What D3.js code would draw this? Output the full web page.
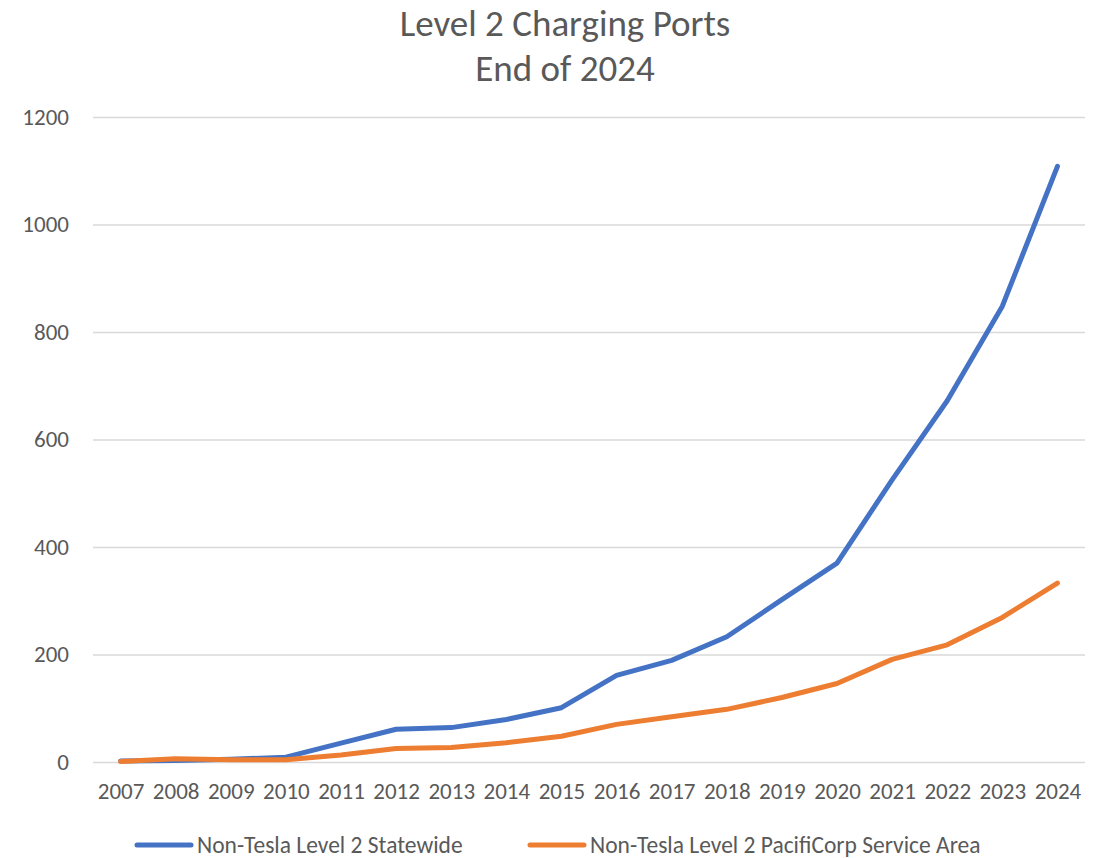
<!DOCTYPE html>
<html><head><meta charset="utf-8">
<script src="https://cdn.jsdelivr.net/npm/d3@7"></script>
<style>
body{margin:0;background:#fff;}
text{font-family:Carlito,'Liberation Sans Narrow','Open Sans',sans-serif;fill:#595959;}
</style></head>
<body><svg id="c" width="1106" height="858"></svg>
<script>
const years = ["2007","2008","2009","2010","2011","2012","2013","2014","2015","2016","2017","2018","2019","2020","2021","2022","2023","2024"];
const statewide = [2,3,5,9,35,61,64,79,101,161,189,233,302,370,525,672,848,1108];
const pacificorp = [1,6,4,4,13,25,27,36,48,70,84,98,120,146,191,218,269,333];
const yTicks = [0,200,400,600,800,1000,1200];
const seriesNames = ["Non-Tesla Level 2 Statewide","Non-Tesla Level 2 PacifiCorp Service Area"];
const colors = ["#4472C4","#ED7D31"];

const svg = d3.select("#c");
const L=93,R=1085,T=117,B=762;
const x = d3.scalePoint().domain(years).range([L,R]).padding(0.5);
const y = d3.scaleLinear().domain([0,1200]).range([B,T]);

svg.append("text").attr("x",565).attr("y",36).attr("text-anchor","middle").style("font-size","37px").text("Level 2 Charging Ports");
svg.append("text").attr("x",565).attr("y",81).attr("text-anchor","middle").style("font-size","37px").text("End of 2024");

const yAxis = d3.axisLeft(y).tickValues(yTicks).tickFormat(d3.format("d")).tickSize(-(R-L)).tickPadding(24);
const gy = svg.append("g").attr("transform",`translate(${L},0)`).call(yAxis);
gy.select(".domain").remove();
gy.selectAll("line").attr("stroke","#D9D9D9").attr("stroke-width",1.5);
gy.selectAll("text").style("font-size","23px").attr("fill","#595959");

const xAxis = d3.axisBottom(x).tickSize(0).tickPadding(21);
const gx = svg.append("g").attr("transform",`translate(0,${B})`).call(xAxis);
gx.select(".domain").remove();
gx.selectAll("text").style("font-size","23px").attr("fill","#595959");

const line = d3.line().x((d,i)=>x(years[i])).y(d=>y(d));
[statewide,pacificorp].forEach((s,k)=>{
  svg.append("path").datum(s).attr("d",line).attr("fill","none")
    .attr("stroke",colors[k]).attr("stroke-width",5).attr("stroke-linecap","round").attr("stroke-linejoin","round");
});

const legX=[137,530];
seriesNames.forEach((n,k)=>{
  const g=svg.append("g").attr("transform",`translate(${legX[k]},845)`);
  g.append("line").attr("x1",0).attr("x2",54).attr("stroke",colors[k]).attr("stroke-width",5).attr("stroke-linecap","round");
  g.append("text").attr("x",60).attr("y",8).style("font-size","23.5px").text(n);
});
</script></body></html>
